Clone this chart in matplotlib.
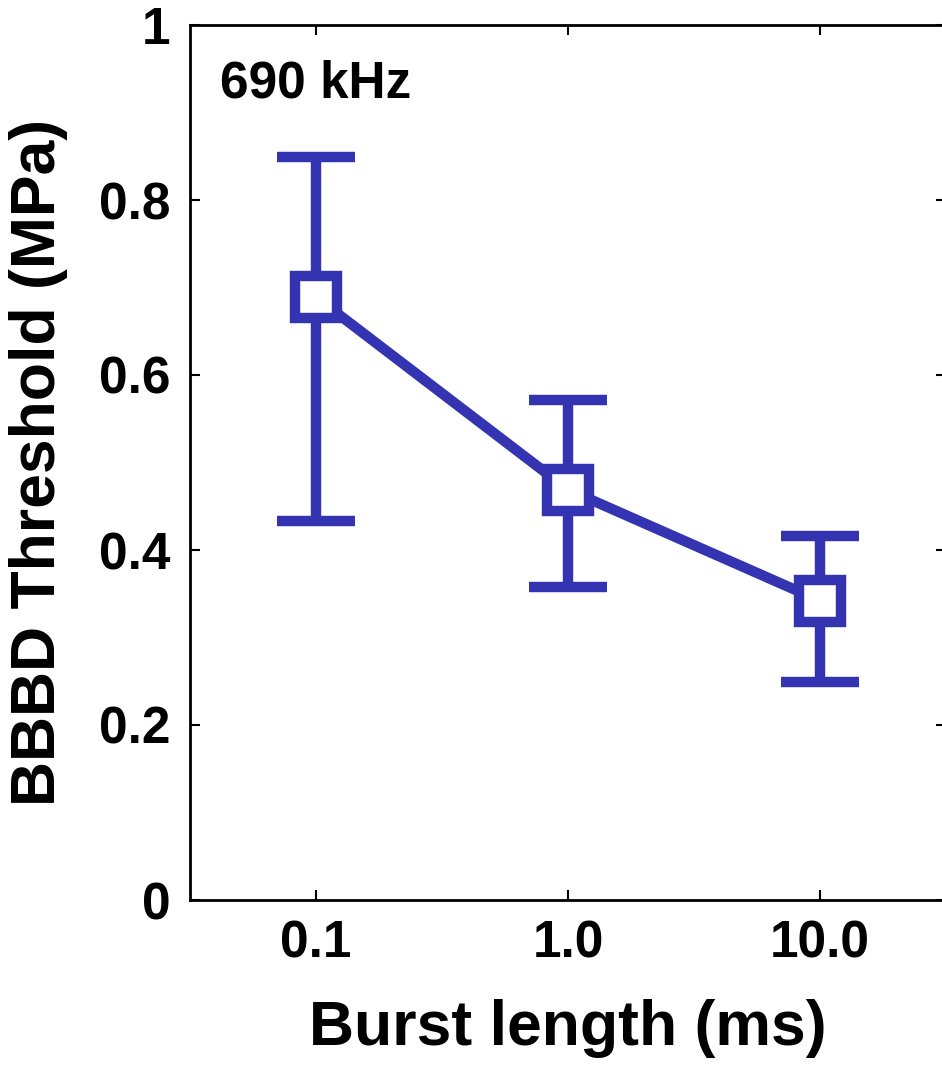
import numpy as np
import matplotlib.pyplot as plt

plt.rcParams['font.family'] = ['Liberation Sans', 'DejaVu Sans']
plt.rcParams['font.weight'] = 'bold'

# burst length (ms) vs BBBD threshold (MPa) at 690 kHz
burst_ms = [0.1, 1.0, 10.0]
threshold = [0.689, 0.469, 0.342]
err_low = [0.433, 0.358, 0.249]
err_high = [0.849, 0.571, 0.416]
xtick_labels = ['0.1', '1.0', '10.0']
yticks = [0, 0.2, 0.4, 0.6, 0.8, 1]
ytick_labels = ['0', '0.2', '0.4', '0.6', '0.8', '1']

blue = '#3434B2'

fig = plt.figure(figsize=(9.42, 10.67), dpi=100)
# right spine sits just past the image edge, as in the source
ax = fig.add_axes([190 / 942, 1 - 900 / 1067, 756 / 942, 875 / 1067])

yerr = np.array([np.array(threshold) - np.array(err_low),
                 np.array(err_high) - np.array(threshold)])
ax.errorbar(burst_ms, threshold, yerr=yerr, color=blue, lw=7.5,
            elinewidth=7.5, capsize=28, capthick=7.5,
            marker='s', ms=30, mfc='white', mec=blue, mew=7.5, zorder=3)

ax.set_xscale('log')
ax.set_xlim(10 ** -1.5, 10 ** 1.5)
ax.set_ylim(0, 1)
ax.set_xticks(burst_ms)
ax.set_xticklabels(xtick_labels)
ax.xaxis.set_minor_locator(plt.NullLocator())
ax.set_yticks(yticks)
ax.set_yticklabels(ytick_labels)

ax.tick_params(direction='in', length=7, width=1.5, top=True, right=True,
               labelsize=37, pad=14)
for s in ax.spines.values():
    s.set_linewidth(2)

ax.set_xlabel('Burst length (ms)', fontsize=45, fontweight='bold', labelpad=22)
ax.set_ylabel('BBBD Threshold (MPa)', fontsize=45, fontweight='bold', labelpad=22)

ax.text(0.04, 0.96, '690 kHz', transform=ax.transAxes, fontsize=37,
        fontweight='bold', va='top', ha='left')

fig.savefig('out.png', dpi=100)
